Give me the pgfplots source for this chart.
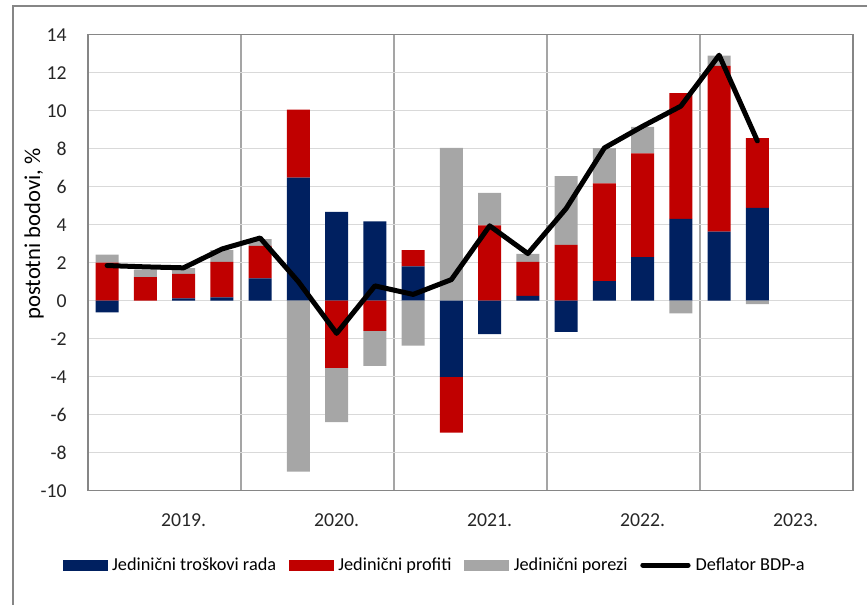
\documentclass[border=0pt]{standalone}
\usepackage{fontspec}
\setmainfont{Carlito}
\usepackage{pgfplots}
\usepackage{pgfplotstable}
\pgfplotsset{compat=1.18}
\definecolor{navy}{RGB}{0,32,96}
\definecolor{dred}{RGB}{192,0,0}
\definecolor{mgray}{RGB}{166,166,166}
\definecolor{gridc}{RGB}{217,217,217}
\definecolor{boxc}{RGB}{134,134,134}
\definecolor{sepc}{RGB}{165,165,165}

% positive parts of the contributions
\pgfplotstableread{
x  blue  red   gray
1  0     2.00  0.43
2  0     1.24  0.40
3  0.12  1.29  0.30
4  0.18  1.86  0.62
5  1.17  1.71  0.36
6  6.48  3.58  0
7  4.67  0     0
8  4.18  0     0
9  1.80  0.86  0
10 0     0     8.04
11 0     3.97  1.70
12 0.25  1.79  0.42
13 0     2.94  3.61
14 1.03  5.15  1.85
15 2.29  5.47  1.39
16 4.31  6.61  0
17 3.64  8.72  0.54
18 4.88  3.67  0
}\postab
% negative parts of the contributions
\pgfplotstableread{
x  blue   red    gray
1  -0.62  0      0
2  0      0      0
3  0      0      0
4  0      0      0
5  0      0      0
6  0      0      -9.00
7  0      -3.54  -2.85
8  0      -1.59  -1.84
9  0      0      -2.36
10 -4.01  -2.93  0
11 -1.76  0      0
12 0      0      0
13 -1.64  0      0
14 0      0      0
15 0      0      0
16 0      0      -0.67
17 0      0      0
18 0      0      -0.18
}\negtab
\pgfplotstableread{
x  defl
1  1.85
2  1.78
3  1.73
4  2.72
5  3.30
6  1.00
7  -1.72
8  0.78
9  0.33
10 1.11
11 3.94
12 2.48
13 4.85
14 8.04
15 9.18
16 10.24
17 12.92
18 8.41
}\defltab

\pgfplotsset{base/.style={
  scale only axis, width=573.75pt, height=342pt,
  xmin=0.5, xmax=20.5, ymin=-10, ymax=14,
  at={(66pt,85.725pt)}, anchor=south west}}

\begin{document}
\begin{tikzpicture}[x=0.75pt,y=0.75pt]
\useasboundingbox (0,0) rectangle (867,605);
\draw[boxc, line width=0.8pt] (13,0) -- (13,599) -- (870,599);

\begin{axis}[base, ybar stacked, bar width=0.6,
  axis line style={boxc, line width=1pt},
  ytick={-10,-8,...,14},
  ymajorgrids, major grid style={gridc, line width=0.8pt},
  xtick={3,7,11,15,19},
  xticklabels={2019.,2020.,2021.,2022.,2023.},
  minor xtick={4.5,8.5,12.5,16.5},
  xminorgrids, minor grid style={sepc, line width=0.8pt},
  major tick length=0pt, minor tick length=0pt,
  tick label style={font=\fontsize{14.8}{17}\selectfont, text=black!85},
  yticklabel style={anchor=east, inner sep=0pt, xshift=-15.75pt},
  xticklabel style={anchor=center, inner sep=0pt, yshift=-22pt},
  /pgf/number format/assume math mode=true,
  ylabel={postotni bodovi, \%},
  every axis y label/.style={at={(axis description cs:-0.0706,0.563)}, rotate=90, anchor=center, font=\fontsize{17}{20}\selectfont},
  legend columns=4,
  legend style={at={(0.453,-0.163)}, anchor=center, draw=none, fill=none,
    font=\fontsize{13.7}{16}\selectfont,
    nodes={inner sep=1.5pt},
    /tikz/every even column/.append style={column sep=8pt},
    /tikz/every odd column/.append style={column sep=2.25pt}},
]
\addlegendimage{legend image code/.code={\fill[navy] (0pt,-3.75pt) rectangle (33pt,3.75pt);}}
\addlegendimage{legend image code/.code={\fill[dred] (0pt,-3.75pt) rectangle (33pt,3.75pt);}}
\addlegendimage{legend image code/.code={\fill[mgray] (0pt,-3.75pt) rectangle (33pt,3.75pt);}}
\addlegendimage{legend image code/.code={\draw[black, line width=3.75pt, line cap=round] (0pt,0pt) -- (34pt,0pt);}}
\addplot[fill=navy, draw=none] table[x=x, y=blue] {\postab};
\addplot[fill=dred, draw=none] table[x=x, y=red] {\postab};
\addplot[fill=mgray, draw=none] table[x=x, y=gray] {\postab};
\legend{Jedinični troškovi rada, Jedinični profiti, Jedinični porezi, Deflator BDP-a}
\end{axis}

\begin{axis}[base, hide axis, ybar stacked, bar width=0.6]
\addplot[fill=navy, draw=none] table[x=x, y=blue] {\negtab};
\addplot[fill=dred, draw=none] table[x=x, y=red] {\negtab};
\addplot[fill=mgray, draw=none] table[x=x, y=gray] {\negtab};
\end{axis}

\begin{axis}[base, hide axis]
\addplot[black, line width=3.75pt, line join=round, line cap=round, mark=none] table[x=x, y=defl] {\defltab};
\end{axis}
\end{tikzpicture}
\end{document}
